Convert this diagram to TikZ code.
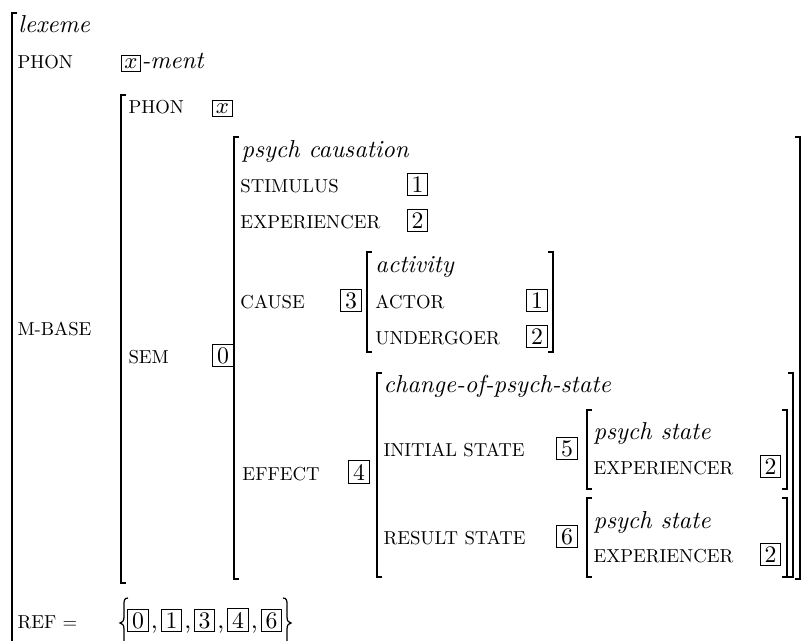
\documentclass[tikz,border=0pt]{standalone}
\usepackage{fontspec}
\newfontfamily\featfont{lmroman10-regular}[Extension=.otf]
\begin{document}
\begin{tikzpicture}[x=0.4pt,y=-0.4pt,
    feat/.style={anchor=base west,inner sep=0pt,font=\featfont\fontsize{7.5}{9}\selectfont},
    sort/.style={anchor=base west,inner sep=0pt,font=\fontsize{9.8}{12}\selectfont\itshape},
    tagbox/.style={draw,line width=0.4pt,anchor=base,inner sep=1.2pt,minimum width=8.2pt,font=\fontsize{9.5}{11}\selectfont},
    varbox/.style={draw,line width=0.4pt,anchor=base,inner sep=1.2pt,font=\fontsize{9.5}{11}\selectfont},
    brk/.style={line width=0.5pt}]
    \useasboundingbox (0,0) rectangle (802,641);
    \clip (0,0) rectangle (802,641);
    % brackets
    \draw[brk] (17,13) -- (12,13) -- (12,660);
    \draw[brk] (126,95) -- (121,95) -- (121,583) -- (126,583);
    \draw[brk] (239,137) -- (234,137) -- (234,579) -- (239,579);
    \draw[brk] (795,137) -- (800,137) -- (800,579) -- (795,579);
    \draw[brk] (372,252) -- (367,252) -- (367,352) -- (372,352);
    \draw[brk] (548,252) -- (553,252) -- (553,352) -- (548,352);
    \draw[brk] (382,373) -- (377,373) -- (377,577) -- (382,577);
    \draw[brk] (788,373) -- (793,373) -- (793,577) -- (788,577);
    \draw[brk] (592,410) -- (587,410) -- (587,489) -- (592,489);
    \draw[brk] (782,410) -- (787,410) -- (787,489) -- (782,489);
    \draw[brk] (592,498) -- (587,498) -- (587,577) -- (592,577);
    \draw[brk] (782,498) -- (787,498) -- (787,577) -- (782,577);
    % outer matrix
    \node[sort] (lexeme) at (18,32) {lexeme};
    \node[feat] (phon) at (17,68) {PHON};
    \node[varbox] (phonx) at (131,68) {$x$};
    \node[sort] (ment) at (phonx.base east) {-ment};
    \node[feat] (mbase) at (17,335) {M-BASE};
    \node[feat] (ref) at (17,628) {REF =};
    % m-base value
    \node[feat] (bphon) at (128,113) {PHON};
    \node[varbox] (bphonx) at (222.5,113) {$x$};
    \node[feat] (sem) at (128,363) {SEM};
    \node[tagbox] (t0) at (223,363) {0};
    % sem value
    \node[sort] (psycaus) at (241,157) {psych causation};
    \node[feat] (stim) at (240,192) {STIMULUS};
    \node[tagbox] (stimt) at (417.5,192) {1};
    \node[feat] (exp) at (240,228) {EXPERIENCER};
    \node[tagbox] (expt) at (417.5,228) {2};
    \node[feat] (cause) at (240,308) {CAUSE};
    \node[tagbox] (t3) at (351,308) {3};
    \node[feat] (effect) at (242,480) {EFFECT};
    \node[tagbox] (t4) at (359,480) {4};
    % cause value
    \node[sort] (activity) at (375,272) {activity};
    \node[feat] (actor) at (375,308) {ACTOR};
    \node[tagbox] (actort) at (537,308) {1};
    \node[feat] (undergoer) at (375,344) {UNDERGOER};
    \node[tagbox] (undergoert) at (537,344) {2};
    % effect value
    \node[sort] (change) at (383,392) {change-of-psych-state};
    \node[feat] (initial) at (383,456) {INITIAL STATE};
    \node[tagbox] (t5) at (567,456) {5};
    \node[feat] (result) at (383,544) {RESULT STATE};
    \node[tagbox] (t6) at (567,544) {6};
    \node[sort] (instate) at (593,439) {psych state};
    \node[feat] (inexp) at (593,474) {EXPERIENCER};
    \node[tagbox] (inexpt) at (770.5,474) {2};
    \node[sort] (resstate) at (593,528) {psych state};
    \node[feat] (resexp) at (593,562) {EXPERIENCER};
    \node[tagbox] (resexpt) at (770.5,562) {2};
    % ref set
    \draw[brk] (128,598) .. controls (124,598) and (124,601) .. (124,605) -- (124,617)
        .. controls (124,621) and (122,623) .. (120,623) .. controls (122,623) and (124,625) .. (124,629)
        -- (124,641) .. controls (124,645) and (124,648) .. (128,648);
    \draw[brk] (283,598) .. controls (287,598) and (287,601) .. (287,605) -- (287,617)
        .. controls (287,621) and (289,623) .. (291,623) .. controls (289,623) and (287,625) .. (287,629)
        -- (287,641) .. controls (287,645) and (287,648) .. (283,648);
    \node[tagbox] (r0) at (138,628) {0};
    \node[anchor=base west,inner sep=0pt] (c0) at ([xshift=0.6pt]r0.base east) {,};
    \node[tagbox] (r1) at (171.5,628) {1};
    \node[anchor=base west,inner sep=0pt] (c1) at ([xshift=0.6pt]r1.base east) {,};
    \node[tagbox] (r3) at (204.5,628) {3};
    \node[anchor=base west,inner sep=0pt] (c3) at ([xshift=0.6pt]r3.base east) {,};
    \node[tagbox] (r4) at (238,628) {4};
    \node[anchor=base west,inner sep=0pt] (c4) at ([xshift=0.6pt]r4.base east) {,};
    \node[tagbox] (r6) at (271.5,628) {6};
\end{tikzpicture}
\end{document}
